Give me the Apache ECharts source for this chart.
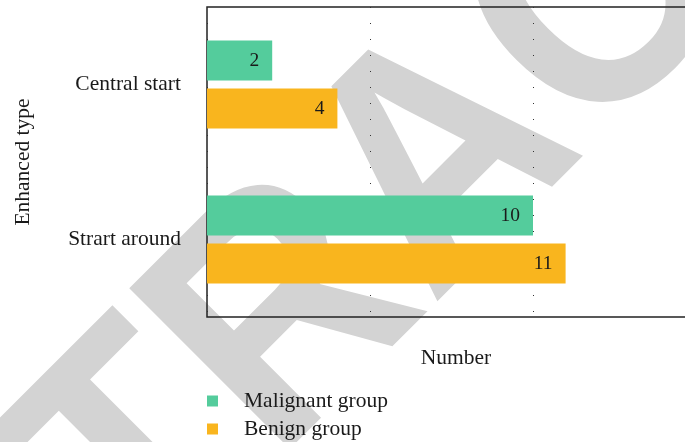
<!DOCTYPE html>
<html>
<head>
<meta charset="utf-8">
<script src="https://cdn.jsdelivr.net/npm/echarts@6/dist/echarts.min.js"></script>
<style>
  html, body { margin: 0; padding: 0; background: #ffffff; }
  #chart { width: 685px; height: 442px; }
</style>
</head>
<body>
<div id="chart"></div>
<script>
// Enhancement type by group
const categories = ['Central start', 'Strart around'];
const malignant = [2, 10];
const benign = [4, 11];
const seriesNames = ['Malignant group', 'Benign group'];

const serif = '"Liberation Serif", "Times New Roman", serif';
const chart = echarts.init(document.getElementById('chart'));

const barLabel = {
  show: true,
  position: 'insideRight',
  distance: 13,
  color: '#1a1a1a',
  fontFamily: serif,
  fontSize: 19.5
};

chart.setOption({
  animation: false,
  grid: {
    left: 207,
    top: 7,
    bottom: 125,
    right: -11,
    show: true,
    borderColor: '#222',
    borderWidth: 1.5,
    containLabel: false,
    outerBoundsMode: 'none'
  },
  legend: {
    orient: 'vertical',
    left: 207,
    top: 390,
    height: 80,
    padding: 0,
    itemWidth: 11,
    itemHeight: 11,
    itemGap: 6,
    icon: 'rect',
    textStyle: { fontFamily: serif, fontSize: 21.5, lineHeight: 21, color: '#1a1a1a', padding: [0, 0, 0, 21] },
    data: seriesNames
  },
  xAxis: {
    type: 'value',
    min: 0,
    max: 15,
    interval: 5,
    name: 'Number',
    nameLocation: 'middle',
    nameGap: 30,
    nameTextStyle: { fontFamily: serif, fontSize: 21.5, color: '#1a1a1a', padding: [0, 0, 0, 9] },
    axisLine: { show: false },
    axisTick: { show: false },
    axisLabel: { show: false },
    splitLine: { show: true, lineStyle: { color: '#333', width: 1, type: [1, 15] } }
  },
  yAxis: {
    type: 'category',
    inverse: true,
    data: categories,
    name: 'Enhanced type',
    nameLocation: 'middle',
    nameGap: 173,
    nameRotate: 90,
    nameTextStyle: { fontFamily: serif, fontSize: 21.5, color: '#1a1a1a' },
    axisLine: { show: false },
    axisTick: { show: false },
    axisLabel: { fontFamily: serif, fontSize: 21.5, color: '#1a1a1a', margin: 26 },
    splitLine: { show: false }
  },
  graphic: [{
    type: 'text',
    x: 446,
    y: 164,
    rotation: Math.PI / 4,
    scaleX: 0.93,
    z: -10,
    silent: true,
    style: {
      text: 'RETRACTED',
      font: 'bold 330px "Liberation Sans", Arial, sans-serif',
      fill: '#d3d3d3',
      textAlign: 'center',
      textVerticalAlign: 'middle'
    }
  }],
  series: [
    {
      name: seriesNames[0],
      type: 'bar',
      data: malignant,
      barWidth: 40,
      barGap: '20%',
      itemStyle: { color: '#54cc9c' },
      label: barLabel
    },
    {
      name: seriesNames[1],
      type: 'bar',
      data: benign,
      barWidth: 40,
      barGap: '20%',
      itemStyle: { color: '#f9b51e' },
      label: barLabel
    }
  ]
});
</script>
</body>
</html>
